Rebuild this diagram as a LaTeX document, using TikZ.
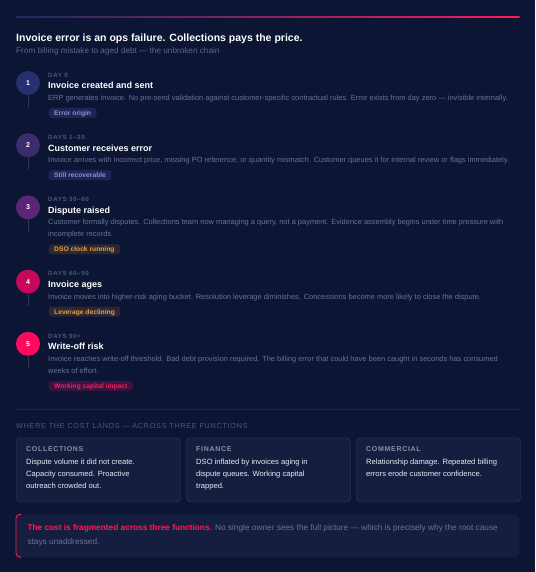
\documentclass[tikz,border=0pt]{standalone}
\usepackage{fontspec}
\setmainfont{Liberation Sans}
\newfontfamily\capsfont[LetterSpace=10]{Liberation Sans}
\usepackage{xcolor}
\usepackage{tikz}
\definecolor{pagebg}{HTML}{0C1533}
\definecolor{cardbg}{HTML}{151E3E}
\definecolor{cardline}{HTML}{283152}
\definecolor{rulegrey}{HTML}{1E2747}
\definecolor{stemgrey}{HTML}{2E3759}
\definecolor{mutedtext}{HTML}{6B7394}
\definecolor{daytext}{HTML}{4F5878}
\definecolor{subtext}{HTML}{5E6787}
\definecolor{cardhead}{HTML}{8A91A9}
\definecolor{cardtext}{HTML}{E9ECF6}
\definecolor{gradblue}{HTML}{1C2B60}
\definecolor{gradpurple}{HTML}{6A2C78}
\definecolor{stepone}{HTML}{27306E}
\definecolor{steptwo}{HTML}{3B2C6C}
\definecolor{stepthree}{HTML}{5E2477}
\definecolor{stepfour}{HTML}{C6085A}
\definecolor{stepfive}{HTML}{FF0A5E}
\definecolor{tagblue}{HTML}{1D2557}
\definecolor{tagbluetext}{HTML}{8892C4}
\definecolor{tagbrown}{HTML}{2C2732}
\definecolor{tagorange}{HTML}{E9A23B}
\definecolor{tagpink}{HTML}{3A1340}
\definecolor{hotpink}{HTML}{FF1A5C}

\begin{document}
\begin{tikzpicture}[x=1pt,y=-1pt,line cap=round,line join=round,
  dot/.style={circle,minimum size=24pt,inner sep=0pt,text=white,font=\fontsize{7}{8}\bfseries\selectfont},
  stem/.style={stemgrey,line width=0.8pt},
  daylbl/.style={anchor=west,inner sep=0pt,text height=4.5pt,text depth=0pt,text=daytext,font=\capsfont\fontsize{6.2}{7}\bfseries\selectfont},
  heading/.style={anchor=west,inner sep=0pt,text height=6.5pt,text depth=0pt,text=white,font=\fontsize{9}{10}\bfseries\selectfont},
  body/.style={anchor=north west,inner sep=0pt,align=left,text=mutedtext,font=\fontsize{7.45}{12}\selectfont},
  tagbox/.style={anchor=west,inner xsep=5.5pt,inner ysep=0pt,minimum height=10pt,text height=4.8pt,text depth=0pt,rounded corners=3pt,font=\fontsize{6.7}{7}\bfseries\selectfont},
  card/.style={anchor=north west,minimum width=164pt,minimum height=64pt,inner sep=0pt,rounded corners=4pt,fill=cardbg,draw=cardline,line width=0.7pt},
  cardtitle/.style={anchor=west,inner sep=0pt,text height=5pt,text depth=0pt,text=cardhead,font=\capsfont\fontsize{7}{8}\bfseries\selectfont},
  cardbody/.style={anchor=north west,inner sep=0pt,align=left,text=cardtext,font=\fontsize{7.6}{12}\selectfont}]
\useasboundingbox (0,0) rectangle (535,572);
\fill[pagebg] (0,0) rectangle (535,572);
\shade[left color=gradblue,middle color=gradpurple,right color=hotpink] (16,16.2) rectangle (519.5,17.8);

\node[anchor=west,inner sep=0pt,text=white,font=\fontsize{10.5}{12}\bfseries\selectfont] (title) at (16,38.5) {Invoice error is an ops failure. Collections pays the price.};
\node[anchor=west,inner sep=0pt,text=subtext,font=\fontsize{8.2}{9}\selectfont] (subtitle) at (16,51) {From billing mistake to aged debt — the unbroken chain};

\node[dot,fill=stepone] (n1) at (28,83) {1};
\coordinate (t1) at (28,107);
\draw[stem] (n1) -- (t1);
\node[daylbl] (d1) at (48,75) {DAY 0};
\node[heading] (h1) at (48,85.7) {Invoice created and sent};
\node[body] (b1) at (48,94.8) {ERP generates invoice. No pre-send validation against customer-specific contractual rules. Error exists from day zero — invisible internally.};
\node[tagbox,fill=tagblue,text=tagbluetext] (g1) at (48.5,113) {Error origin};

\node[dot,fill=steptwo] (n2) at (28,145.2) {2};
\coordinate (t2) at (28,169.2);
\draw[stem] (n2) -- (t2);
\node[daylbl] (d2) at (48,137.2) {DAYS 1–30};
\node[heading] (h2) at (48,147.9) {Customer receives error};
\node[body] (b2) at (48,157) {Invoice arrives with incorrect price, missing PO reference, or quantity mismatch. Customer queues it for internal review or flags immediately.};
\node[tagbox,fill=tagblue,text=tagbluetext] (g2) at (48.5,175.2) {Still recoverable};

\node[dot,fill=stepthree] (n3) at (28,207.4) {3};
\coordinate (t3) at (28,231.4);
\draw[stem] (n3) -- (t3);
\node[daylbl] (d3) at (48,199.4) {DAYS 30–60};
\node[heading] (h3) at (48,210.1) {Dispute raised};
\node[body] (b3) at (48,219.2) {Customer formally disputes. Collections team now managing a query, not a payment. Evidence assembly begins under time pressure with\\incomplete records.};
\node[tagbox,fill=tagbrown,text=tagorange] (g3) at (48.5,249.4) {DSO clock running};

\node[dot,fill=stepfour] (n4) at (28,281.6) {4};
\coordinate (t4) at (28,305.6);
\draw[stem] (n4) -- (t4);
\node[daylbl] (d4) at (48,273.6) {DAYS 60–90};
\node[heading] (h4) at (48,284.3) {Invoice ages};
\node[body] (b4) at (48,293.4) {Invoice moves into higher-risk aging bucket. Resolution leverage diminishes. Concessions become more likely to close the dispute.};
\node[tagbox,fill=tagbrown,text=tagorange] (g4) at (48.5,311.6) {Leverage declining};

\node[dot,fill=stepfive] (n5) at (28,343.8) {5};
\coordinate (t5) at (28,367.8);
\draw[stem] (n5) -- (t5);
\node[daylbl] (d5) at (48,335.8) {DAYS 90+};
\node[heading] (h5) at (48,346.5) {Write-off risk};
\node[body] (b5) at (48,355.6) {Invoice reaches write-off threshold. Bad debt provision required. The billing error that could have been caught in seconds has consumed\\weeks of effort.};
\node[tagbox,fill=tagpink,text=hotpink] (g5) at (48.5,385.8) {Working capital impact};

\draw[rulegrey,line width=0.7pt] (16,409.3) -- (519.5,409.3);
\node[anchor=west,inner sep=0pt,text height=5pt,text depth=0pt,text=daytext,font=\capsfont\fontsize{7.25}{8}\selectfont] (costhead) at (16,426) {WHERE THE COST LANDS — ACROSS THREE FUNCTIONS};

\node[card] (card1) at (16,437.5) {};
\node[cardtitle] (c1title) at (26,449) {COLLECTIONS};
\node[cardbody] (c1body) at (26,458.8) {Dispute volume it did not create.\\Capacity consumed. Proactive\\outreach crowded out.};
\node[card] (card2) at (186,437.5) {};
\node[cardtitle] (c2title) at (196,449) {FINANCE};
\node[cardbody] (c2body) at (196,458.8) {DSO inflated by invoices aging in\\dispute queues. Working capital\\trapped.};
\node[card] (card3) at (356,437.5) {};
\node[cardtitle] (c3title) at (366,449) {COMMERCIAL};
\node[cardbody] (c3body) at (366,458.8) {Relationship damage. Repeated billing\\errors erode customer confidence.};

\node[anchor=north west,minimum width=503.5pt,minimum height=42.4pt,inner sep=0pt,rounded corners=5pt,fill=cardbg] (note) at (16,514.3) {};
\draw[hotpink,line width=0.9pt,rounded corners=4pt] ([xshift=5pt]note.north west) -- (note.north west) -- (note.south west) -- ([xshift=5pt]note.south west);
\node[anchor=north west,inner sep=0pt,align=left,text=mutedtext,font=\fontsize{8.3}{13.4}\selectfont] (notetext) at (27.3,524.5) {{\bfseries\color{hotpink}The cost is fragmented across three functions.} No single owner sees the full picture — which is precisely why the root cause\\stays unaddressed.};
\end{tikzpicture}
\end{document}
